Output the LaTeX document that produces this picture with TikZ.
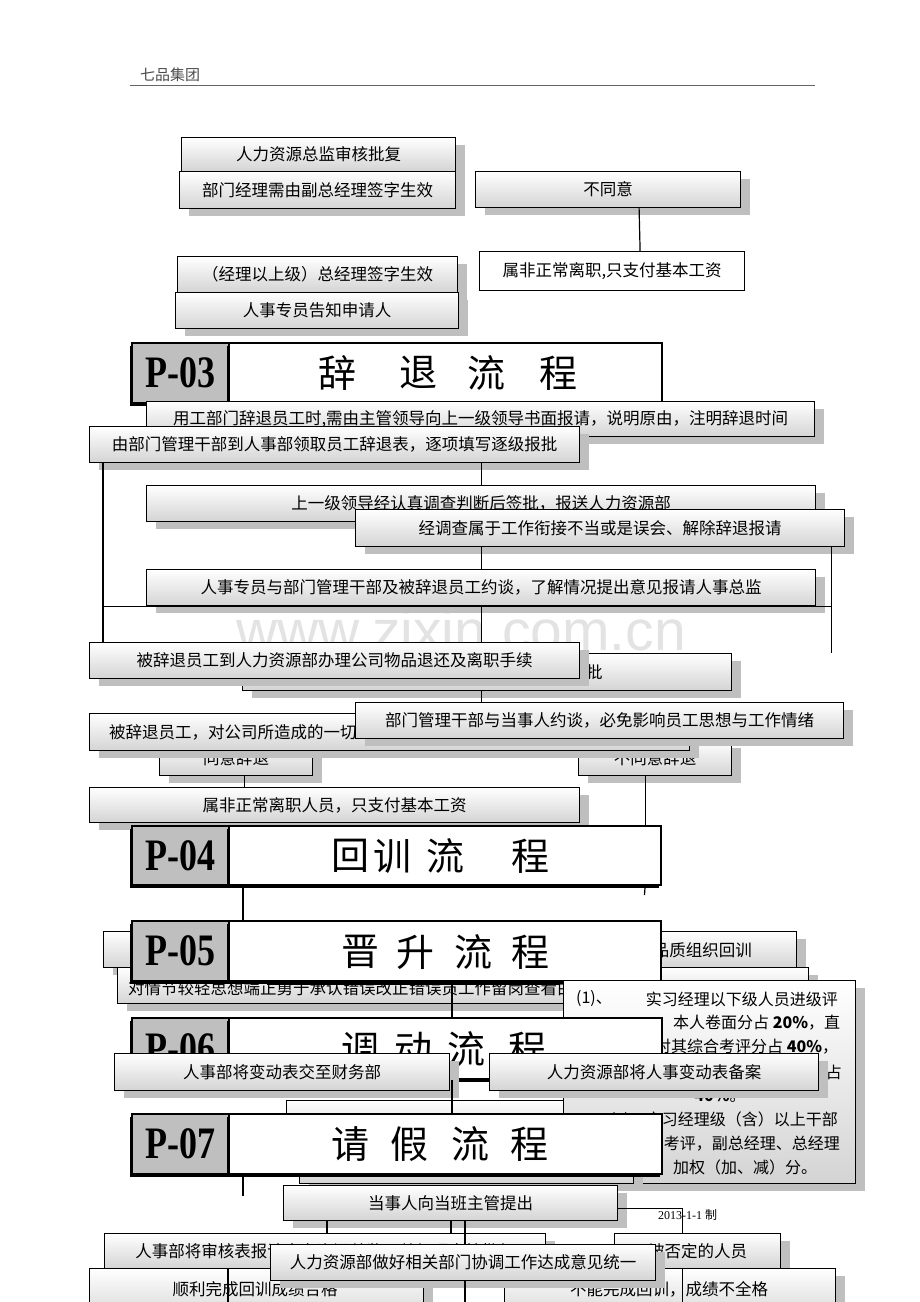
\documentclass[tikz,border=0pt]{standalone}
\usepackage{fontspec}
\usepackage{graphicx}
\setmainfont{Liberation Serif}
\newfontfamily\cjk{Noto Sans CJK SC}
\newfontfamily\wmfont{Liberation Sans}
\usetikzlibrary{shadows}
\tikzset{
  box/.style={draw=black, line width=1.2pt, top color=white, bottom color=black!17,
    drop shadow={shadow xshift=9pt, shadow yshift=-7pt, fill=black!25, opacity=1},
    inner sep=0pt, anchor=north west, font=\cjk\fontsize{16.5}{18}\selectfont},
  plainbox/.style={draw=black, line width=1.2pt, fill=white, inner sep=0pt,
    anchor=north west, font=\cjk\fontsize{16.5}{18}\selectfont},
  hdr/.style={draw=black, line width=2pt, inner sep=0pt, anchor=north west,
    drop shadow={shadow xshift=-2pt, shadow yshift=-3pt, fill=black, opacity=1}},
  hdrg/.style={hdr, fill=black!25},
  hdrw/.style={hdr, fill=white},
  ttl/.style={font=\cjk\fontsize{38}{38}\selectfont, inner sep=0pt},
  pnum/.style={font=\bfseries\fontsize{45}{45}\selectfont, inner sep=0pt},
  txt/.style={font=\cjk\fontsize{16.5}{18}\selectfont, inner sep=0pt},
  utx/.style={font=\cjk\fontsize{16}{18}\selectfont, inner sep=0pt},
  conn/.style={draw=black, line width=1.2pt},
}
\newcommand\bx[6][box]{\pgfmathsetmacro\mybw{#4-#2}\pgfmathsetmacro\mybh{#5-#3}%
  \node[#1,minimum width=\mybw pt,minimum height=\mybh pt] (#6) at (#2,#3)}
\newcommand\nm[1]{{\bfseries #1}}
\begin{document}
\begin{tikzpicture}[x=1pt,y=-1pt]
\useasboundingbox (0,0) rectangle (920,1302);
\fill[white] (0,0) rectangle (920,1302);

% page header
\node[font=\cjk\fontsize{15}{15}\selectfont, text=black!70, anchor=west, inner sep=0pt] (hd) at (140,75) {七品集团};
\coordinate (hl) at (130,85);
\coordinate (hr) at (815,85);
\draw[black!60, line width=1pt] (hl) -- (hr);

% watermark
\node[font=\wmfont\fontsize{57}{57}\selectfont, text=black!11, inner sep=0pt, anchor=base] (wm) at (461,650) {www.zixin.com.cn};

% top section
\bx{181}{137}{455}{171}{A}{人力资源总监审核批复};
\bx{179}{171}{455}{208}{B}{部门经理需由副总经理签字生效};
\bx{475}{171}{740}{207}{C}{不同意};
\bx[plainbox]{479}{251}{744}{290}{D}{属非正常离职,只支付基本工资};
\bx{177}{256}{457}{292}{E}{（经理以上级）总经理签字生效};
\bx{175}{292}{458}{328}{F}{人事专员告知申请人};

% P-03
\bx[hdrg]{131}{342}{228}{402}{p3g}{};
\node[pnum] (p3n) at (p3g.center) {\scalebox{0.8}[1]{P-03}};
\bx[hdrw]{228}{342}{661}{402}{p3w}{};
\node[ttl] (p3a) at (337,373) {辞};
\node[ttl] (p3b) at (418,373) {退};
\node[ttl] (p3c) at (486,373) {流};
\node[ttl] (p3d) at (558,373) {程};

\bx{146}{401}{814}{436}{G}{用工部门辞退员工时,需由主管领导向上一级领导书面报请，说明原由，注明辞退时间};
\bx{89}{426}{579}{462}{H}{由部门管理干部到人事部领取员工辞退表，逐项填写逐级报批};
\bx{146}{485}{815}{521}{I}{上一级领导经认真调查判断后签批，报送人力资源部};
\bx{355}{509}{844}{546}{J}{经调查属于工作衔接不当或是误会、解除辞退报请};
\bx{146}{569}{815}{605}{K}{人事专员与部门管理干部及被辞退员工约谈，了解情况提出意见报请人事总监};
\bx{242}{653}{731}{690}{L}{人事总监根据实际情况做出审批};
\bx{89}{642}{579}{678}{M}{被辞退员工到人力资源部办理公司物品退还及离职手续};
\bx{159}{740}{312}{775}{P}{同意辞退};
\bx{578}{740}{731}{775}{Q}{不同意辞退};
\bx{89}{713}{689}{750}{O}{被辞退员工，对公司所造成的一切经济损失，应予以赔偿后方可办理离职手续};
\bx{355}{702}{843}{738}{N}{部门管理干部与当事人约谈，必免影响员工思想与工作情绪};
\bx{89}{787}{579}{822}{R}{属非正常离职人员，只支付基本工资};

% P-04
\bx[hdrg]{131}{825}{228}{884}{p4g}{};
\node[pnum] (p4n) at (p4g.center) {\scalebox{0.8}[1]{P-04}};
\bx[hdrw]{228}{825}{660}{884}{p4w}{};
\node[ttl] (p4a) at (350,856) {回};
\node[ttl] (p4b) at (392,856) {训};
\node[ttl] (p4c) at (445,856) {流};
\node[ttl] (p4d) at (530,856) {程};

% P-05
\bx{103}{931}{796}{967}{S}{};
\node[txt, anchor=east] (Stx) at (752,950) {由人事部与品质组织回训};
\bx{117}{967}{808}{1003}{T}{};
\node[txt, anchor=west] (Ttx) at (128,988) {对情节较轻思想端正勇于承认错误改正错误员工作留岗查看由};
\bx[hdrg]{131}{920}{228}{980}{p5g}{};
\node[pnum] (p5n) at (p5g.center) {\scalebox{0.8}[1]{P-05}};
\bx[hdrw]{228}{920}{660}{980}{p5w}{};
\node[ttl] (p5a) at (360,952) {晋};
\node[ttl] (p5b) at (415,952) {升};
\node[ttl] (p5c) at (473,952) {流};
\node[ttl] (p5d) at (530,952) {程};

% boxes behind P-06 / P-07
\bx{286}{1100}{600}{1140}{V1}{};
\node[txt] (V1tx) at (450,1125) {主管审核后报部门经理批准};
\bx{563}{980}{855}{1183}{U}{};
\node[utx, anchor=west] (u1a) at (576,999) {(1)、};
\node[utx, anchor=east] (u1b) at (838,999) {实习经理以下级人员进级评};
\node[utx, anchor=west] (u2) at (673,1023) {本人卷面分占 {\nm{20\%}}，直};
\node[utx, anchor=west] (u3) at (655,1047) {对其综合考评分占 {\nm{40\%}}，};
\node[utx, anchor=east] (u4) at (842,1072) {占};
\node[utx] (u5) at (720,1096) {\nm{40\%}。};
\node[utx, anchor=east] (u6) at (838,1120) {(2)、实习经理级（含）以上干部};
\node[utx, anchor=east] (u7) at (840,1144) {由综合考评，副总经理、总经理};
\node[utx, anchor=west] (u8) at (673,1167) {加权（加、减）分。};
\bx{299}{1140}{633}{1183}{V2}{};

% P-06
\bx[hdrg]{131}{1017}{228}{1078}{p6g}{};
\node[pnum] (p6n) at (p6g.center) {\scalebox{0.8}[1]{P-06}};
\bx[hdrw]{228}{1017}{661}{1078}{p6w}{};
\node[ttl] (p6a) at (360,1049) {调};
\node[ttl] (p6b) at (413,1049) {动};
\node[ttl] (p6c) at (466,1049) {流};
\node[ttl] (p6d) at (527,1049) {程};
\bx{114}{1053}{449}{1090}{X1}{人事部将变动表交至财务部};
\bx{489}{1053}{818}{1090}{X2}{人力资源部将人事变动表备案};

% P-07
\bx[hdrg]{131}{1113}{228}{1173}{p7g}{};
\node[pnum] (p7n) at (p7g.center) {\scalebox{0.8}[1]{P-07}};
\bx[hdrw]{228}{1113}{661}{1173}{p7w}{};
\node[ttl] (p7a) at (350,1144) {请};
\node[ttl] (p7b) at (409,1144) {假};
\node[ttl] (p7c) at (470,1144) {流};
\node[ttl] (p7d) at (529,1144) {程};

\bx{283}{1185}{617}{1220}{W}{当事人向当班主管提出};
\node[font=\fontsize{12}{12}\selectfont, anchor=west, inner sep=0pt] (date) at (658,1215) {2013-1-1 {\cjk 制}};
\bx{104}{1233}{545}{1268}{X}{人事部将审核表报请人力资源总监及总经理审核批复};
\bx{614}{1233}{780}{1268}{Y}{被否定的人员};
\bx{89}{1268}{423}{1322}{AA}{};
\node[txt] (AAtx) at (255,1289) {顺利完成回训成绩合格};
\bx{504}{1268}{835}{1322}{BB}{};
\node[txt] (BBtx) at (669,1289) {不能完成回训，成绩不全格};
\bx{270}{1244}{655}{1280}{Z}{人力资源部做好相关部门协调工作达成意见统一};

% connectors
\coordinate (q4end) at (644.5,895);
\coordinate (p7end) at (243,1196);
\draw[conn] ([xshift=31pt]C.south) -- ([xshift=28pt]D.north);
\draw[conn] (H.south -| I.north) -- (I.north);
\draw[conn] (J.south -| K.north) -- (K.north);
\draw[conn] ([xshift=14pt]H.south west) -- ([xshift=14pt]M.north west);
\draw[conn] ([xshift=-14pt]J.south east) -- ([xshift=-14pt]J.south east |- L.north);
\draw[conn] ([xshift=14pt]H.south west |- K.south) -- ([xshift=-14pt]J.south east |- K.south);
\draw[conn] (K.south) -- (K.south |- M.north);
\draw[conn] (K.south |- L.south) -- (K.south |- N.north);
\draw[conn] ([xshift=8pt]P.south) -- ([xshift=8pt]P.south |- R.north);
\draw[conn] ([xshift=-10pt]Q.south) -- ([xshift=-10pt]Q.south |- p4w.north);
\draw[conn] ([xshift=-10pt]Q.south |- p4w.south) -- (q4end);
\draw[conn] ([xshift=15pt]p4w.south west) -- ([xshift=15pt]p5w.north west);
\draw[conn] ([xshift=224pt]p5w.south west) -- ([xshift=224pt]p6w.north west);
\draw[conn] ([xshift=150pt,yshift=-17pt]T.north west) -- ([xshift=443pt,yshift=-17pt]T.north west);
\draw[conn] ([xshift=224pt]p6w.south west) -- ([xshift=224pt]p7w.north west);
\draw[conn] ([xshift=15pt]p7w.south west) -- (p7end);
\draw[conn] ([yshift=-5pt]W.east) -| ([xshift=-15pt]Y.north);
\draw[conn] ([xshift=44pt]W.south west) -- ([xshift=44pt]W.south west |- X.north);
\draw[conn] ([xshift=168pt]W.south west) -- ([xshift=168pt]W.south west |- X.north);
\draw[conn] ([xshift=182pt]W.south west) -- ([xshift=182pt]W.south west |- Z.north);
\draw[conn] ([xshift=182pt]W.south west |- Z.south) -- ([xshift=182pt]W.south west |- AA.south);
\draw[conn] ([xshift=139pt]AA.north west) -- ([xshift=139pt]AA.south west);
\draw[conn] ([xshift=-15pt]Y.south) -- ([xshift=-15pt]Y.south |- BB.south);
\end{tikzpicture}
\end{document}
